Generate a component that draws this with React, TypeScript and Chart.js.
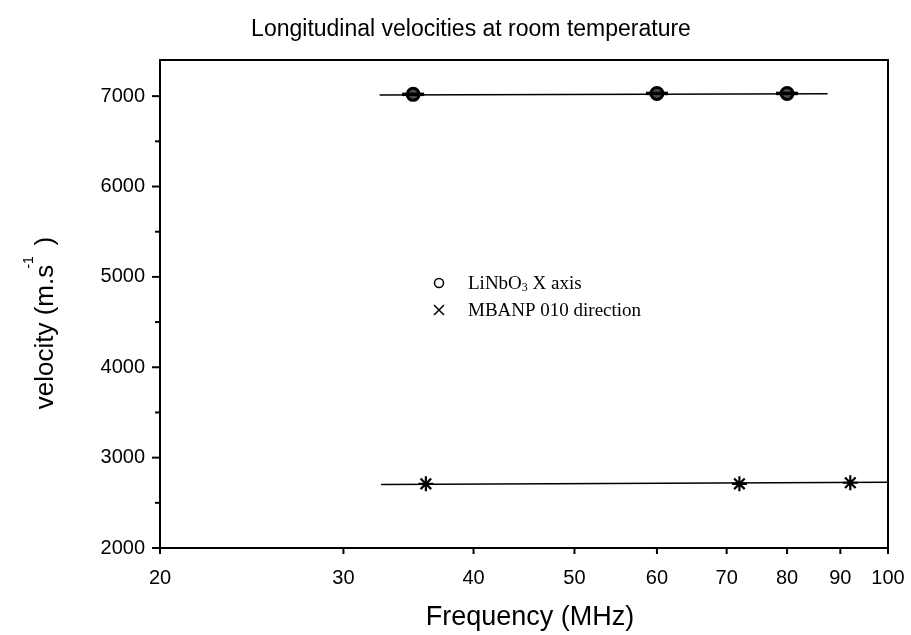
import React, { useEffect, useRef } from 'react';
import { Chart, registerables } from 'chart.js';

Chart.register(...registerables);

// ---- data ----
const linbo3Freq = [35, 60, 80];
const linbo3Vel = [7020, 7030, 7030];
const linbo3FitFreq = [32.5, 87.5];
const linbo3FitVel = [7013, 7027];

const mbanpFreq = [36, 72, 92];
const mbanpVel = [2710, 2710, 2722];
const mbanpFitFreq = [32.6, 100];
const mbanpFitVel = [2703, 2728];

const xTicks = [20, 30, 40, 50, 60, 70, 80, 90, 100];
const yMajorTicks = [2000, 3000, 4000, 5000, 6000, 7000];
const yMinorTicks = [2500, 3500, 4500, 5500, 6500];

const titleText = 'Longitudinal velocities at room temperature';
const xTitle = 'Frequency (MHz)';
const legendLabels = ['LiNbO', 'MBANP 010 direction'];

const SANS = '"Liberation Sans", Arial, Helvetica, sans-serif';
const SERIF = '"Liberation Serif", "Times New Roman", serif';

const pts = (xs: number[], ys: number[]) => xs.map((x, i) => ({ x, y: ys[i] }));

const decorPlugin = {
  id: 'decor',
  afterDatasetsDraw(chart: any) {
    const { ctx, chartArea } = chart;
    const { left, right, top, bottom } = chartArea;
    const xs = chart.scales.x;
    const ys = chart.scales.y;
    ctx.save();
    ctx.strokeStyle = '#000';
    ctx.fillStyle = '#000';
    // box
    ctx.lineWidth = 2;
    ctx.strokeRect(left, top, right - left, bottom - top);
    // x ticks
    ctx.lineWidth = 2;
    xTicks.forEach((v) => {
      const px = xs.getPixelForValue(v);
      ctx.beginPath();
      ctx.moveTo(px, bottom);
      ctx.lineTo(px, bottom + 6);
      ctx.stroke();
    });
    // y ticks
    yMajorTicks.forEach((v) => {
      const py = ys.getPixelForValue(v);
      ctx.beginPath();
      ctx.moveTo(left - 8, py);
      ctx.lineTo(left, py);
      ctx.stroke();
    });
    yMinorTicks.forEach((v) => {
      const py = ys.getPixelForValue(v);
      ctx.beginPath();
      ctx.moveTo(left - 5, py);
      ctx.lineTo(left, py);
      ctx.stroke();
    });

    // title
    ctx.font = `23px ${SANS}`;
    ctx.textAlign = 'center';
    ctx.textBaseline = 'alphabetic';
    ctx.fillText(titleText, 471, 36);

    // x title
    ctx.font = `27px ${SANS}`;
    ctx.fillText(xTitle, 530, 625);

    // y title with superscript
    ctx.save();
    ctx.translate(53, 323);
    ctx.rotate(-Math.PI / 2);
    ctx.textAlign = 'left';
    ctx.font = `26px ${SANS}`;
    const p1 = 'velocity (m.s';
    const p2 = '  )';
    const w1 = ctx.measureText(p1).width;
    const w2 = ctx.measureText(p2).width;
    ctx.font = `14px ${SANS}`;
    const sup = '-1';
    const ws = ctx.measureText(sup).width;
    const total = w1 + ws * 0.4 + w2;
    const x0 = -total / 2;
    ctx.font = `26px ${SANS}`;
    ctx.fillText(p1, x0, 0);
    ctx.font = `14px ${SANS}`;
    ctx.fillText(sup, x0 + w1 - ws * 0.3, -20);
    ctx.font = `26px ${SANS}`;
    ctx.fillText(p2, x0 + w1 + ws * 0.4, 0);
    ctx.restore();

    // legend
    ctx.lineWidth = 1.5;
    ctx.beginPath();
    ctx.arc(439, 283, 4.5, 0, Math.PI * 2);
    ctx.stroke();
    ctx.beginPath();
    ctx.moveTo(434, 305);
    ctx.lineTo(444, 315);
    ctx.moveTo(444, 305);
    ctx.lineTo(434, 315);
    ctx.stroke();
    ctx.textAlign = 'left';
    ctx.font = `19px ${SERIF}`;
    const tx = 468;
    ctx.fillText(legendLabels[0], tx, 289);
    const wl = ctx.measureText(legendLabels[0]).width;
    ctx.font = `12px ${SERIF}`;
    ctx.fillText('3', tx + wl, 291);
    const w3 = ctx.measureText('3').width;
    ctx.font = `19px ${SERIF}`;
    ctx.fillText(' X axis', tx + wl + w3, 289);
    ctx.fillText(legendLabels[1], tx, 316);

    ctx.restore();
  },
};

export default function App() {
  const ref = useRef<HTMLCanvasElement | null>(null);

  useEffect(() => {
    document.body.style.margin = '0';
    const canvas = ref.current;
    if (!canvas) return;
    const chart = new Chart(canvas, {
      type: 'scatter',
      data: {
        datasets: [
          {
            label: 'LiNbO3 fit',
            data: pts(linbo3FitFreq, linbo3FitVel),
            showLine: true,
            borderColor: '#000',
            borderWidth: 1.6,
            pointRadius: 0,
          },
          {
            label: 'MBANP fit',
            data: pts(mbanpFitFreq, mbanpFitVel),
            showLine: true,
            borderColor: '#000',
            borderWidth: 1.6,
            pointRadius: 0,
          },
          {
            label: 'LiNbO3 error',
            data: pts(linbo3Freq, linbo3Vel),
            pointStyle: 'line',
            pointRadius: 11,
            pointBorderWidth: 3.5,
            pointBorderColor: '#000',
            showLine: false,
          },
          {
            label: 'LiNbO3 X axis',
            data: pts(linbo3Freq, linbo3Vel),
            pointStyle: 'circle',
            pointRadius: 6,
            pointBorderWidth: 3,
            pointBorderColor: '#000',
            pointBackgroundColor: 'rgba(0,0,0,0.7)',
            showLine: false,
          },
          {
            label: 'MBANP 010 direction',
            data: pts(mbanpFreq, mbanpVel),
            pointStyle: 'star',
            pointRadius: 7.5,
            pointBorderWidth: 2.2,
            pointBorderColor: '#000',
            showLine: false,
          },
        ],
      },
      options: {
        animation: false,
        responsive: false,
        maintainAspectRatio: false,
        layout: { padding: { top: 60, right: 23, bottom: 0, left: 0 } },
        plugins: {
          legend: { display: false },
          title: { display: false },
          tooltip: { enabled: false },
        },
        scales: {
          x: {
            type: 'logarithmic',
            min: 20,
            max: 100,
            grid: { display: false, drawTicks: false },
            border: { display: false },
            afterBuildTicks: (s: any) => {
              s.ticks = xTicks.map((v) => ({ value: v }));
            },
            afterFit: (s: any) => {
              s.height = 87;
              s.paddingLeft = 0;
              s.paddingRight = 0;
            },
            ticks: {
              autoSkip: false,
              maxRotation: 0,
              padding: 18,
              color: '#000',
              font: { family: SANS, size: 20 },
              callback: (v: any) => String(v),
            },
          },
          y: {
            min: 2000,
            max: 7400,
            grid: { display: false, drawTicks: false },
            border: { display: false },
            afterBuildTicks: (s: any) => {
              s.ticks = yMajorTicks.map((v) => ({ value: v }));
            },
            afterFit: (s: any) => {
              s.width = 160;
              s.paddingTop = 0;
              s.paddingBottom = 0;
            },
            ticks: {
              autoSkip: false,
              padding: 15,
              color: '#000',
              font: { family: SANS, size: 20 },
              callback: (v: any) => String(v),
            },
          },
        },
      },
      plugins: [decorPlugin],
    } as any);
    return () => chart.destroy();
  }, []);

  return (
    <div style={{ width: 911, height: 635, background: '#fff' }}>
      <canvas ref={ref} width={911} height={635} style={{ display: 'block' }} />
    </div>
  );
}
